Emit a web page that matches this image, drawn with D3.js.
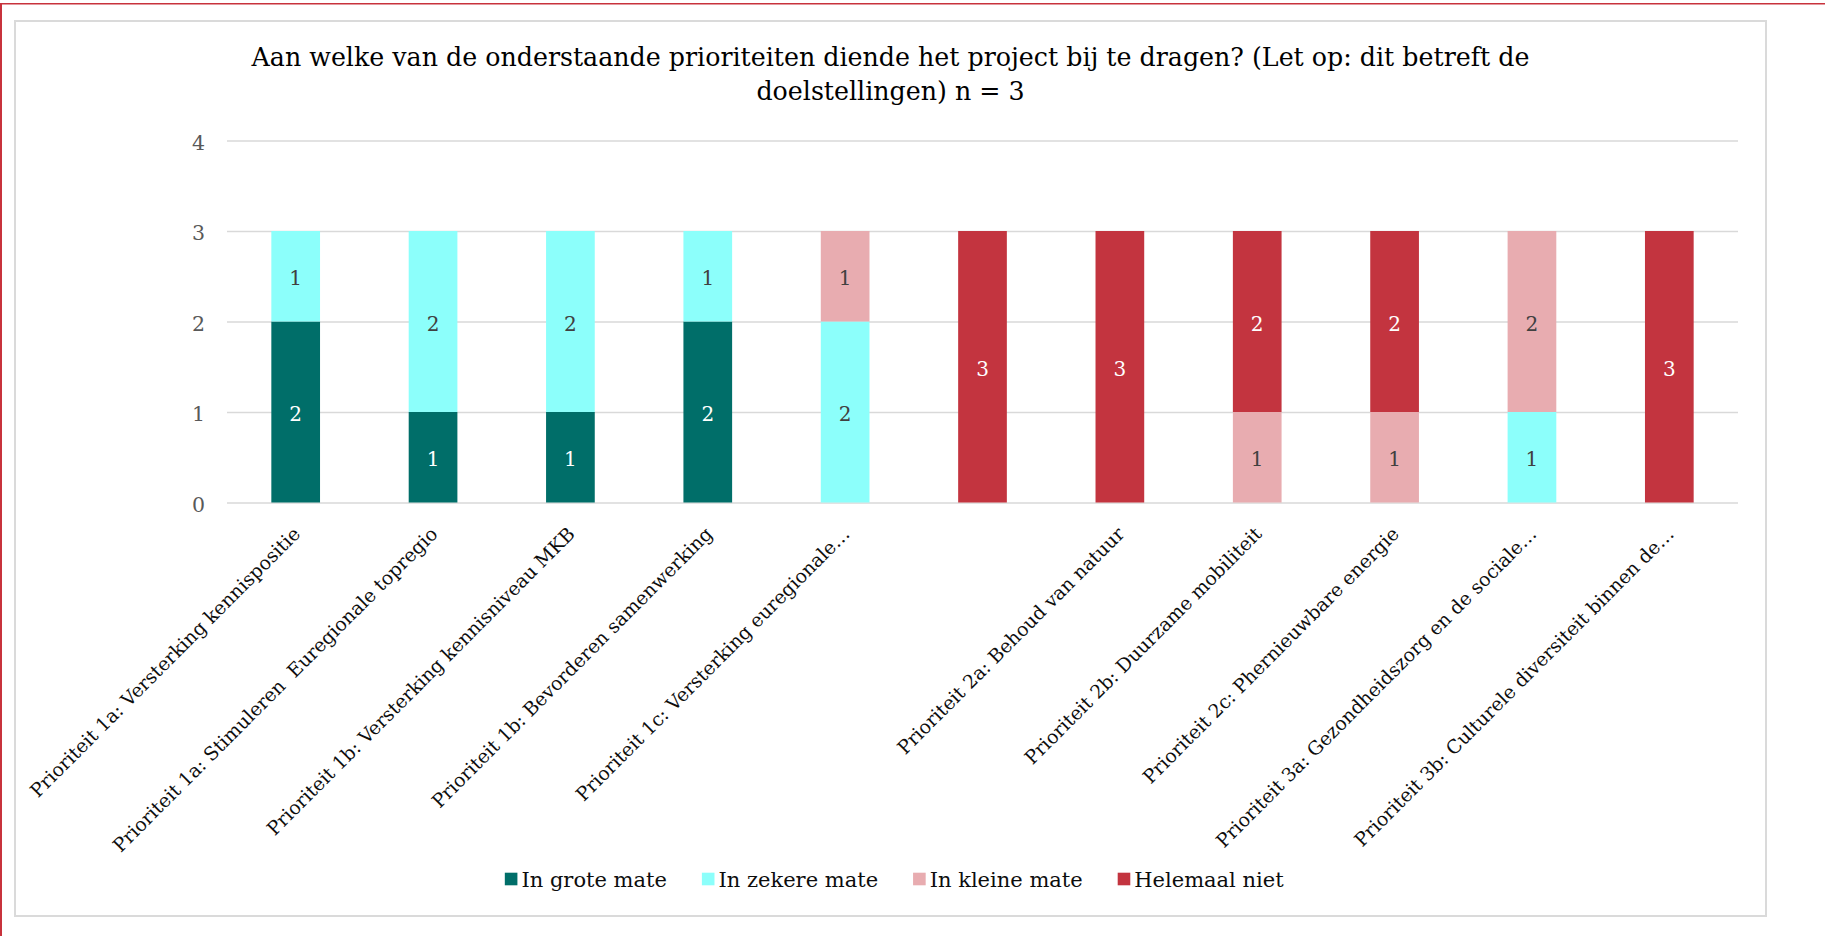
<!DOCTYPE html>
<html>
<head>
<meta charset="utf-8">
<script src="https://cdn.jsdelivr.net/npm/d3@7"></script>
<style>
  html, body { margin: 0; padding: 0; background: #fff; }
  svg { display: block; }
  text { font-family: "DejaVu Serif", "Liberation Serif", serif; }
</style>
</head>
<body>
<svg id="chart" width="1825" height="936"></svg>
<script>
// ---------- data ----------
const categories = [
  "Prioriteit 1a: Versterking kennispositie",
  "Prioriteit 1a: Stimuleren\u00a0 Euregionale topregio",
  "Prioriteit 1b: Versterking kennisniveau MKB",
  "Prioriteit 1b: Bevorderen samenwerking",
  "Prioriteit 1c: Versterking euregionale…",
  "",
  "Prioriteit 2a: Behoud van natuur",
  "Prioriteit 2b: Duurzame mobiliteit",
  "Prioriteit 2c: Phernieuwbare energie",
  "Prioriteit 3a: Gezondheidszorg en de sociale…",
  "Prioriteit 3b: Culturele diversiteit binnen de…"
];
const seriesNames = ["In grote mate", "In zekere mate", "In kleine mate", "Helemaal niet"];
const seriesColors = ["#006e69", "#8cfffb", "#e8acb0", "#c3343f"];
const labelColors = ["#ffffff", "#404040", "#404040", "#ffffff"];
const grote  = [2, 1, 1, 2, 0, 0, 0, 0, 0, 0, 0];
const zekere = [1, 2, 2, 1, 2, 0, 0, 0, 0, 1, 0];
const kleine = [0, 0, 0, 0, 1, 0, 0, 1, 1, 2, 0];
const niet   = [0, 0, 0, 0, 0, 3, 3, 2, 2, 0, 3];
const yTicks = [0, 1, 2, 3, 4];
const titleLines = [
  "Aan welke van de onderstaande prioriteiten diende het project bij te dragen? (Let op: dit betreft de",
  "doelstellingen) n = 3"
];

// ---------- layout ----------
const svg = d3.select("#chart");
const W = 1825, H = 936;
const box = { x: 14, y: 20, w: 1753, h: 897 };
const plot = { left: 227, right: 1738, top: 140.5, bottom: 502.5 };

// outer red frame lines
svg.append("line").attr("x1", 0).attr("x2", W).attr("y1", 3.8).attr("y2", 3.8)
  .attr("stroke", "#c8323c").attr("stroke-width", 1.6);
svg.append("line").attr("x1", 1).attr("x2", 1).attr("y1", 3).attr("y2", H)
  .attr("stroke", "#c8323c").attr("stroke-width", 2);

// chart box
svg.append("rect").attr("x", box.x + 1).attr("y", box.y + 1)
  .attr("width", box.w - 2).attr("height", box.h - 2)
  .attr("fill", "#fff").attr("stroke", "#dadada").attr("stroke-width", 2);

// title
const title = svg.append("text").attr("text-anchor", "middle")
  .attr("fill", "#000").attr("font-size", 25.3);
titleLines.forEach((t, i) => {
  title.append("tspan").attr("x", box.x + box.w / 2).attr("y", 66 + i * 34).text(t);
});

// scales
const idx = d3.range(categories.length);
const x = d3.scaleBand().domain(idx).range([plot.left, plot.right])
  .paddingInner(0.6455).paddingOuter(0.6455 / 2);
const y = d3.scaleLinear().domain([0, 4]).range([plot.bottom, plot.top]);

// gridlines
const yAxis = d3.axisLeft(y).tickValues(yTicks).tickSize(-(plot.right - plot.left))
  .tickFormat(d3.format("d")).tickPadding(22);
const gy = svg.append("g").attr("transform", `translate(${plot.left},0)`).call(yAxis);
gy.select(".domain").remove();
gy.selectAll(".tick line").attr("stroke", "#d9d9d9").attr("stroke-width", 1.5);
gy.selectAll(".tick text").attr("fill", "#595959").attr("font-size", 20.5)
  .attr("font-family", "DejaVu Serif, serif").attr("dy", "0.42em");

// stacked data
const rows = idx.map(i => ({
  i,
  "In grote mate": grote[i],
  "In zekere mate": zekere[i],
  "In kleine mate": kleine[i],
  "Helemaal niet": niet[i]
}));
const stack = d3.stack().keys(seriesNames)(rows);

const layers = svg.append("g").selectAll("g").data(stack).join("g")
  .attr("fill", (d, k) => seriesColors[k]);
layers.selectAll("rect").data(d => d.filter(s => s[1] - s[0] > 0)).join("rect")
  .attr("x", s => x(s.data.i))
  .attr("width", x.bandwidth())
  .attr("y", s => y(s[1]))
  .attr("height", s => y(s[0]) - y(s[1]));

// data labels
const lab = svg.append("g");
stack.forEach((layer, k) => {
  lab.selectAll(null).data(layer.filter(s => s[1] - s[0] > 0)).join("text")
    .attr("x", s => x(s.data.i) + x.bandwidth() / 2)
    .attr("y", s => y((s[0] + s[1]) / 2))
    .attr("dy", "0.46em")
    .attr("text-anchor", "middle")
    .attr("font-size", 20)
    .attr("fill", labelColors[k])
    .text(s => s[1] - s[0]);
});

// x category labels
svg.append("g").selectAll("text").data(idx).join("text")
  .attr("transform", i => `translate(${x(i) + x.bandwidth() / 2 + 1},${plot.bottom + 28}) rotate(-45)`)
  .attr("text-anchor", "end")
  .attr("dy", "0.35em")
  .attr("font-size", 18.9)
  .attr("fill", "#0d0d0d")
  .text(i => categories[i]);

// legend
const legend = svg.append("g");
const legendY = 879;
const sq = 12.6, gapSq = 4, gapItem = 35;
const items = legend.selectAll("g").data(seriesNames).join("g");
items.append("rect").attr("width", sq).attr("height", sq).attr("y", legendY - sq / 2)
  .attr("fill", (d, k) => seriesColors[k]);
items.append("text").attr("x", sq + gapSq).attr("y", legendY).attr("dy", "0.37em")
  .attr("font-size", 21).attr("fill", "#0d0d0d").text(d => d);
let widths = [];
items.each(function () { widths.push(this.getBBox().width); });
const total = d3.sum(widths) + gapItem * (widths.length - 1);
let cx = box.x + box.w / 2 - total / 2 + 4;
items.attr("transform", (d, k) => {
  const t = `translate(${cx},0)`;
  cx += widths[k] + gapItem;
  return t;
});
</script>
</body>
</html>
